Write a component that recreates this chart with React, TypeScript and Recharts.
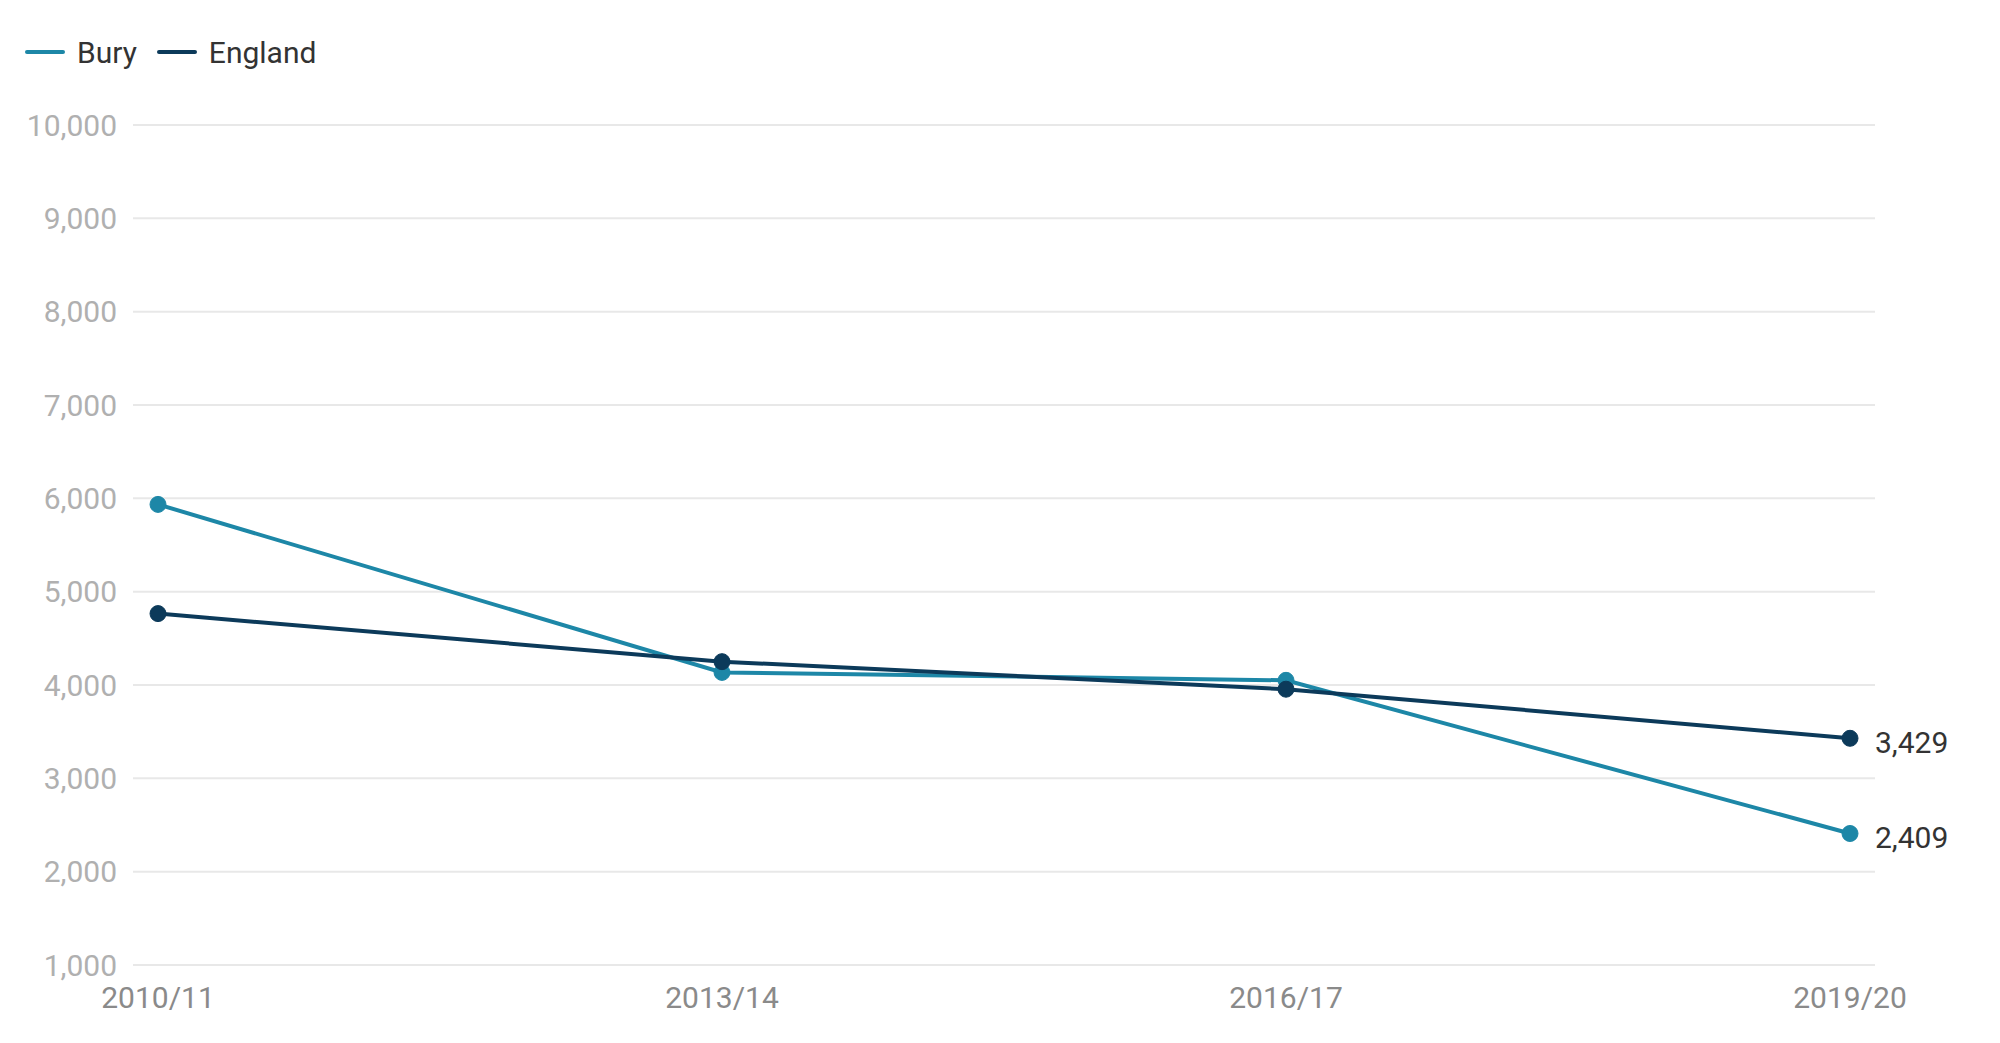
import { LineChart, Line, XAxis, YAxis, CartesianGrid, Legend, LabelList } from "recharts";

// values
const years = ["2010/11", "2013/14", "2016/17", "2019/20"];
const bury = [5935, 4135, 4050, 2409];
const england = [4765, 4250, 3955, 3429];
const yTicks = [1000, 2000, 3000, 4000, 5000, 6000, 7000, 8000, 9000, 10000];

const data = years.map((year, i) => ({ year, bury: bury[i], england: england[i] }));

const BURY = "#1d87a7";
const ENGLAND = "#0c3a5a";
const FONT = "Roboto, 'Noto Sans', sans-serif";

const series = [
  { key: "bury", name: "Bury", color: BURY },
  { key: "england", name: "England", color: ENGLAND },
];

const LegendContent = () => (
  <div style={{ display: "flex", alignItems: "center", height: 60, fontFamily: FONT, fontSize: 30, color: "#333" }}>
    {series.map((s) => (
      <div key={s.key} style={{ display: "flex", alignItems: "center", marginRight: 20 }}>
        <div style={{ width: 40, height: 4, borderRadius: 2, background: s.color, marginRight: 12 }} />
        <span>{s.name}</span>
      </div>
    ))}
  </div>
);

const lastLabel = (props: any) => {
  const { x, y, value, index } = props;
  if (index !== years.length - 1) return null;
  return (
    <text x={x + 25} y={y + 7} dominantBaseline="middle" fontFamily={FONT} fontSize={30} fill="#333">
      {Number(value).toLocaleString("en-GB")}
    </text>
  );
};

export default function App() {
  return (
    <div style={{ position: "absolute", left: 0, top: 0, background: "#fff" }}>
      <LineChart width={2000} height={1043} data={data} margin={{ top: 65, right: 125, bottom: 0, left: 0 }}>
        <CartesianGrid vertical={false} stroke="#e8e8e8" strokeWidth={2} />
        <XAxis
          dataKey="year"
          axisLine={false}
          tickLine={false}
          padding={{ left: 25, right: 25 }}
          height={78}
          tickMargin={16}
          tick={{ fontFamily: FONT, fontSize: 30, fill: "#8a8a8a" }}
        />
        <YAxis
          domain={[1000, 10000]}
          ticks={yTicks}
          axisLine={false}
          tickLine={false}
          width={133}
          tickMargin={10}
          tickFormatter={(v: number) => v.toLocaleString("en-GB")}
          tick={{ fontFamily: FONT, fontSize: 30, fill: "#b0b0b0" }}
        />
        <Legend
          verticalAlign="top"
          align="left"
          content={LegendContent}
          wrapperStyle={{ top: 22, left: 25, height: 60 }}
        />
        {series.map((s) => (
          <Line
            key={s.key}
            dataKey={s.key}
            name={s.name}
            type="linear"
            stroke={s.color}
            strokeWidth={4}
            dot={{ r: 8, fill: s.color, stroke: s.color, strokeWidth: 1 }}
            isAnimationActive={false}
          >
            <LabelList dataKey={s.key} content={lastLabel} />
          </Line>
        ))}
      </LineChart>
    </div>
  );
}
